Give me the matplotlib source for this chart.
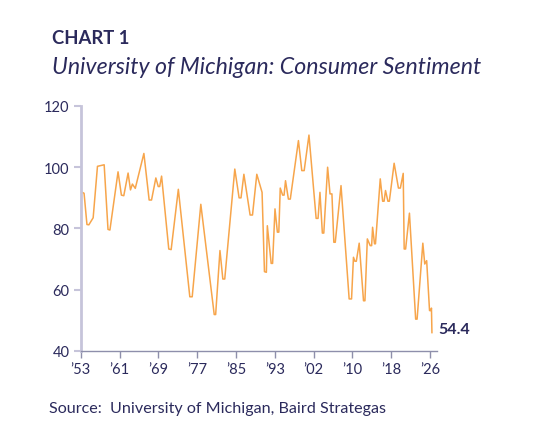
import matplotlib
matplotlib.use("Agg")
import matplotlib.pyplot as plt

plt.rcParams['font.family'] = ['Lato', 'DejaVu Sans']

# points (annee decimale, indice)
annees = [1953.3, 1953.7, 1954.3, 1954.7, 1955.6, 1956.5, 1957.9, 1958.7, 1959.1,
          1960.8, 1961.5, 1962.0, 1962.9, 1963.4, 1963.8, 1964.4, 1966.2, 1967.3,
          1967.8, 1968.7, 1969.2, 1969.5, 1969.9, 1971.4, 1971.9, 1973.4, 1975.8,
          1976.3, 1978.1, 1980.9, 1981.2, 1982.1, 1982.7, 1983.1, 1985.2, 1986.1,
          1986.5, 1987.1, 1988.4, 1988.9, 1989.8, 1990.9, 1991.4, 1991.8, 1992.0,
          1992.8, 1993.1, 1993.6, 1994.1, 1994.4, 1994.7, 1995.2, 1995.5, 1995.8,
          1996.4, 1996.8, 1998.5, 1999.2, 1999.7, 2000.7, 2002.2, 2002.6, 2003.0,
          2003.5, 2003.8, 2004.6, 2005.1, 2005.5, 2005.9, 2006.2, 2007.4, 2009.1,
          2009.6, 2010.0, 2010.3, 2010.6, 2011.2, 2012.1, 2012.4, 2012.9, 2013.5,
          2013.8, 2014.0, 2014.4, 2014.6, 2015.6, 2016.1, 2016.4, 2016.7, 2017.2,
          2017.5, 2018.5, 2019.4, 2019.8, 2020.4, 2020.6, 2020.9, 2021.7, 2023.0,
          2023.3, 2024.5, 2024.9, 2025.3, 2025.9, 2026.2, 2026.3, 2026.4]
indice = [91.8, 91.5, 81.3, 81.2, 83.5, 100.3, 100.8, 79.7, 79.5,
          98.5, 90.9, 90.7, 98.1, 92.6, 94.5, 93.1, 104.5, 89.3,
          89.3, 96.5, 93.7, 93.7, 97.1, 73.3, 73.1, 92.8, 57.7,
          57.7, 87.9, 51.9, 51.9, 72.8, 63.5, 63.5, 99.4, 90.0,
          90.0, 97.7, 84.4, 84.4, 97.7, 91.8, 65.9, 65.7, 80.9,
          68.6, 68.6, 86.4, 78.8, 78.8, 93.2, 90.9, 90.9, 95.6,
          89.6, 89.6, 108.7, 98.9, 98.9, 110.5, 83.3, 83.3, 91.8,
          78.5, 78.5, 100.0, 91.3, 91.3, 75.5, 75.5, 94.0, 57.0,
          57.0, 70.6, 69.3, 69.3, 75.2, 56.4, 56.4, 76.6, 74.4,
          74.4, 80.4, 75.0, 75.0, 96.2, 88.9, 88.9, 92.4, 88.9,
          88.9, 101.3, 93.2, 93.2, 98.0, 73.3, 73.3, 85.0, 50.4,
          50.4, 75.2, 68.4, 69.5, 53.2, 53.2, 54.0, 46.0]

dernier = "54.4"
pos_ticks = [1953 + k * 73 / 9 for k in range(10)]
labels_ticks = ["\u201953", "\u201961", "\u201969", "\u201977", "\u201985",
                "\u201993", "\u201902", "\u201910", "\u201918", "\u201926"]

bleu = "#2b2a5c"
orange = "#f7a54b"

fig = plt.figure(figsize=(5.36, 4.39), dpi=100)
ax = fig.add_axes([0.1506, 0.1982, 0.6647, 0.5581])

ax.plot(annees, indice, color=orange, lw=1.1, solid_joinstyle='round')

ax.set_xlim(1953, 2027.46)
ax.set_ylim(40, 120)
ax.set_yticks([40, 60, 80, 100, 120])
ax.set_xticks(pos_ticks)
ax.set_xticklabels(labels_ticks)

for s in ['top', 'right']:
    ax.spines[s].set_visible(False)
ax.spines['left'].set_color("#c6c4da")
ax.spines['left'].set_linewidth(2.0)
ax.spines['bottom'].set_color("#8e8fab")
ax.spines['bottom'].set_linewidth(1.0)

ax.tick_params(axis='y', colors="#c6c4da", width=1.5, length=5, labelcolor=bleu,
               labelsize=10.5, pad=3)
ax.tick_params(axis='x', colors="#8e8fab", width=1.0, length=5, labelcolor=bleu,
               labelsize=10.5, pad=3)

ax.annotate(dernier, xy=(annees[-1], indice[-1]), xytext=(4.5, 0),
            textcoords='offset points', ha='left', va='baseline',
            fontsize=11.5, fontweight='bold', color=bleu)

fig.text(0.097, 0.900, "CHART 1", fontsize=13.3, fontweight='bold', color=bleu,
         ha='left', va='baseline')
fig.text(0.097, 0.831, "University of Michigan: Consumer Sentiment", fontsize=16.7,
         style='italic', color=bleu, ha='left', va='baseline')
fig.text(0.091, 0.059, "Source:  University of Michigan, Baird Strategas",
         fontsize=11.6, color=bleu, ha='left', va='baseline')

fig.savefig("out.png", dpi=100)
